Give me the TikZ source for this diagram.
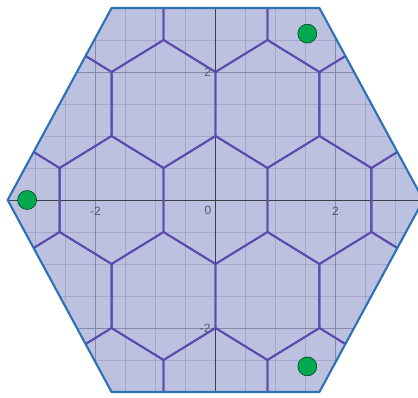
\documentclass[tikz,border=0pt]{standalone}
\usepackage{fontspec}
\setmainfont{Liberation Sans}
\definecolor{hexfill}{RGB}{188,193,223}
\definecolor{bordblue}{RGB}{45,112,179}
\definecolor{hexpurple}{RGB}{92,76,174}
\definecolor{gridc}{RGB}{120,125,160}
\definecolor{axisc}{RGB}{60,62,75}
\definecolor{labc}{RGB}{85,88,100}
\definecolor{ptgreen}{RGB}{0,168,78}
\tikzset{
  minorgrid/.style={draw=gridc,line width=0.6pt,opacity=0.35},
  majorgrid/.style={draw=gridc,line width=0.8pt,opacity=0.7},
  axisline/.style={draw=axisc,line width=1pt},
  hexedge/.style={draw=hexpurple,line width=1.9pt,line join=miter},
  bigborder/.style={draw=bordblue,line width=2.1pt,line join=round},
  ticklab/.style={text=labc,font=\fontsize{12}{12}\selectfont,inner sep=0pt},
  greenpt/.style={circle,fill=ptgreen,draw=black!70!ptgreen,line width=0.5pt,minimum size=19pt,inner sep=0pt}
}
\begin{document}
\begin{tikzpicture}[x=60pt,y=64pt]
\useasboundingbox (-215.5pt,-197pt) rectangle (202.5pt,200pt);
% big hexagon corners
\coordinate (H1) at ({2*sqrt(3)},0);
\coordinate (H2) at ({sqrt(3)},3);
\coordinate (H3) at ({-sqrt(3)},3);
\coordinate (H4) at ({-2*sqrt(3)},0);
\coordinate (H5) at ({-sqrt(3)},-3);
\coordinate (H6) at ({sqrt(3)},-3);
\fill[hexfill] (H1)--(H2)--(H3)--(H4)--(H5)--(H6)--cycle;
\begin{scope}
  \clip (H1)--(H2)--(H3)--(H4)--(H5)--(H6)--cycle;
  % minor grid
  \foreach \k in {-8,...,8} {
    \draw[minorgrid] (\k/2,-3.2) -- (\k/2,3.2);
    \draw[minorgrid] (-3.6,\k/2) -- (3.6,\k/2);
  }
  \foreach \k in {-2,2} {
    \draw[majorgrid] (\k,-3.2) -- (\k,3.2);
    \draw[majorgrid] (-3.6,\k) -- (3.6,\k);
  }
  % axes
  \draw[axisline] (-3.6,0) -- (3.6,0);
  \draw[axisline] (0,-3.2) -- (0,3.2);
  % tick labels
  \node[ticklab] (lxm2) at (-2,-0.17) {-2};
  \node[ticklab] (lx0) at (-0.125,-0.16) {0};
  \node[ticklab] (lx2) at (2,-0.17) {2};
  \node[ticklab,anchor=east] (ly2) at (-0.07,2) {2};
  \node[ticklab,anchor=east] (lym2) at (-0.08,-2) {-2};
  % hex lattice
  \foreach \i in {-4,...,4} {
    \foreach \j in {-3,...,3} {
      \pgfmathsetmacro{\cx}{sqrt(3)*\i + sqrt(3)/2*\j}
      \pgfmathsetmacro{\cy}{1.5*\j}
      \draw[hexedge] (\cx,\cy) ++(30:1) -- ++(150:1) -- ++(210:1) -- ++(270:1) -- ++(330:1) -- ++(30:1) -- cycle;
    }
  }
\end{scope}
\draw[bigborder] (H1)--(H2)--(H3)--(H4)--(H5)--(H6)--cycle;
\node[greenpt] (p1) at (-3.14,0) {};
\node[greenpt] (p2) at (1.53,2.6) {};
\node[greenpt] (p3) at (1.53,-2.6) {};
\end{tikzpicture}
\end{document}
